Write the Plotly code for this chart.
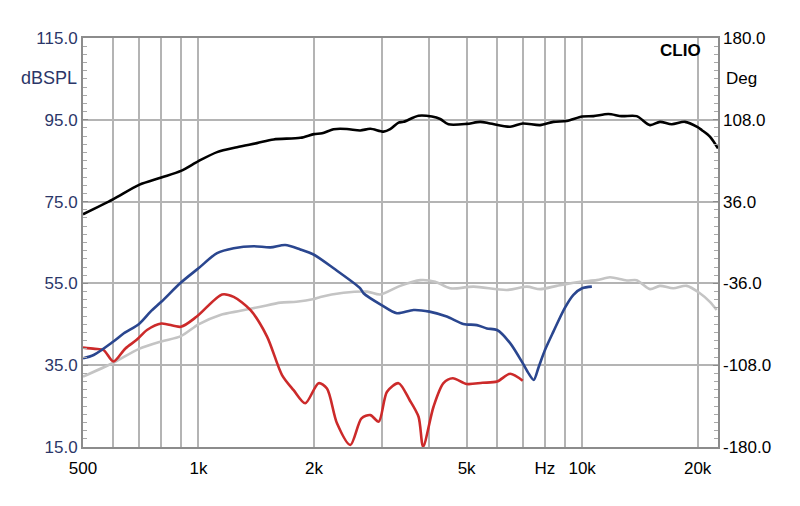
import math
import plotly.graph_objects as go

# ---- data ----
black_f = [500, 600, 700, 800, 900, 1000, 1118, 1260, 1420, 1570, 1843, 2000, 2100, 2250, 2437, 2640, 2805,
           3037, 3160, 3322, 3424, 3746, 4059, 4266, 4483, 5000, 5424, 5756, 6490, 7000, 7770, 8415, 9117,
           10000, 10700, 11700, 12680, 13870, 15030, 15950, 17120, 18530, 20000, 20490, 21530, 22600]
black_db = [71.9, 75.6, 79.1, 80.9, 82.5, 84.9, 87.1, 88.3, 89.3, 90.2, 90.6, 91.5, 91.7, 92.7, 92.75, 92.4, 92.8,
            92.1, 92.7, 94.3, 94.5, 96.0, 95.8, 95.2, 93.9, 94.0, 94.5, 94.1, 93.3, 94.1, 93.7, 94.5, 94.7,
            95.8, 95.9, 96.4, 95.9, 95.9, 93.7, 94.5, 93.9, 94.5, 93.2, 92.5, 90.9, 88.0]

blue_f = [500, 533, 600, 639, 700, 750, 800, 900, 1000, 1118, 1235, 1393, 1539, 1683, 1843, 2000, 2250,
          2640, 2693, 3000, 3290, 3634, 4000, 4437, 4900, 5316, 5644, 6000, 6490, 7000, 7250, 7480, 7700,
          8000, 8415, 9000, 9490, 10000, 10600]
blue_db = [36.7, 37.5, 40.8, 42.8, 45.1, 48.1, 50.5, 55.2, 58.7, 62.4, 63.6, 64.1, 63.8, 64.4, 63.3, 62.0, 58.7,
           53.8, 52.6, 49.7, 47.7, 48.5, 48.1, 46.9, 45.1, 44.8, 44.0, 43.6, 40.4, 35.5, 33.0, 31.4, 34.5,
           38.7, 43.2, 48.9, 52.2, 53.8, 54.2]

gray_f = [500, 600, 700, 800, 900, 1000, 1140, 1286, 1451, 1636, 1800, 2000, 2078, 2388, 2749, 2977, 3356,
          3784, 4140, 4529, 5210, 6364, 7176, 7770, 8587, 9878, 10920, 11820, 13070, 13870, 15030, 15950,
          17280, 18730, 20270, 21530, 22420]
gray_db = [32.2, 35.6, 39.0, 40.8, 42.1, 45.0, 47.3, 48.3, 49.3, 50.3, 50.5, 51.2, 51.7, 52.7, 53.0, 52.3, 54.4,
           55.8, 55.4, 53.8, 54.2, 53.4, 54.2, 53.6, 54.4, 55.4, 55.8, 56.5, 55.7, 55.8, 53.6, 54.4,
           53.8, 54.4, 52.6, 50.5, 48.5]

red_f = [500, 537, 566, 600, 645, 690, 734, 800, 900, 990, 1152, 1235, 1365, 1509, 1651, 1770, 1898, 2056,
         2162, 2296, 2487, 2660, 2805, 2950, 3100, 3322, 3550, 3746, 3850, 4100, 4350, 4600, 5000, 5500,
         6000, 6490, 7000]
red_db = [39.3, 39.0, 38.7, 35.9, 39.1, 41.2, 43.6, 45.2, 44.4, 46.9, 52.3, 51.7, 48.5, 42.0, 32.6, 28.9, 25.7, 30.6,
          29.3, 20.8, 15.5, 22.0, 22.8, 21.2, 28.5, 30.6, 26.5, 22.4, 15.1, 24.9, 30.6, 31.8, 30.4, 30.7,
          31.0, 32.9, 31.2]

x_tickvals = [500, 600, 700, 800, 900, 1000, 2000, 3000, 4000, 5000, 6000, 7000, 8000, 9000, 10000, 20000]
x_ticktext = ["500", "", "", "", "", "1k", "2k", "", "", "5k", "", "", "Hz", "", "10k", "20k"]
left_ticks = [15, 35, 55, 75, 95, 115]
right_ticks = [-180, -108, -36, 36, 108, 180]

NAVY = "#2b3668"
GRID = "#b4b4b4"
BORDER = "#8c8c8c"

fig = go.Figure()
for f, db, col in [(gray_f, gray_db, "#c4c4c4"), (red_f, red_db, "#cc2a2a"),
                   (blue_f, blue_db, "#2a468f"), (black_f, black_db, "#000000")]:
    fig.add_trace(go.Scatter(x=f, y=db, mode="lines", line=dict(color=col, width=2.6, shape="spline", smoothing=0.8),
                             hoverinfo="skip", showlegend=False))
fig.add_trace(go.Scatter(x=[1000], y=[0], yaxis="y2", mode="markers", marker=dict(opacity=0),
                         hoverinfo="skip", showlegend=False))

fig.update_layout(
    width=800, height=506,
    margin=dict(l=83, r=82, t=38, b=59),
    paper_bgcolor="white", plot_bgcolor="white",
    font=dict(family="Liberation Sans, Arial, sans-serif", size=17, color="black"),
    showlegend=False,
    xaxis=dict(type="log", range=[math.log10(500), math.log10(22600)],
               tickmode="array", tickvals=x_tickvals, ticktext=x_ticktext,
               showgrid=True, gridcolor=GRID, gridwidth=1.5, ticks="",
               showline=True, mirror=True, linecolor=BORDER, linewidth=2, zeroline=False,
               ticklabelstandoff=5,
               tickfont=dict(color="black", size=17)),
    yaxis=dict(range=[15, 115], tickmode="array", tickvals=left_ticks,
               ticktext=[f"{v:.1f}" for v in left_ticks],
               showgrid=True, gridcolor=GRID, gridwidth=1.5, zeroline=False,
               ticks="inside", ticklen=5, tickcolor=BORDER,
               minor=dict(tickmode="linear", tick0=15, dtick=2, ticks="inside", ticklen=4,
                          tickcolor="#a8a8a8", showgrid=False),
               showline=True, mirror=True, linecolor=BORDER, linewidth=2,
               tickfont=dict(color=NAVY, size=17)),
    yaxis2=dict(overlaying="y", side="right", range=[-180, 180], tickmode="array",
                tickvals=right_ticks, ticktext=[f"{v:.1f}" for v in right_ticks],
                showgrid=False, zeroline=False, ticks="inside", ticklen=5, tickcolor=BORDER,
                minor=dict(tickmode="linear", tick0=-180, dtick=7.2, ticks="inside", ticklen=4,
                           tickcolor="#a8a8a8", showgrid=False),
                ticklabelstandoff=4,
                showline=False, tickfont=dict(color="black", size=17)),
    annotations=[
        dict(text="dBSPL", xref="paper", x=0, xanchor="right", xshift=-4, yref="paper",
             y=(447 - 78) / 409, yanchor="middle", showarrow=False, font=dict(color=NAVY, size=18)),
        dict(text="Deg", xref="paper", x=1, xanchor="left", xshift=6, yref="paper",
             y=(447 - 78) / 409, yanchor="middle", showarrow=False, font=dict(color="black", size=17)),
        dict(text="<b>CLIO</b>", xref="paper", x=1, xanchor="right", xshift=-15, yref="paper",
             y=(447 - 51) / 409, yanchor="middle", showarrow=False, font=dict(color="black", size=17)),
    ],
)

fig.write_html("out.html")
